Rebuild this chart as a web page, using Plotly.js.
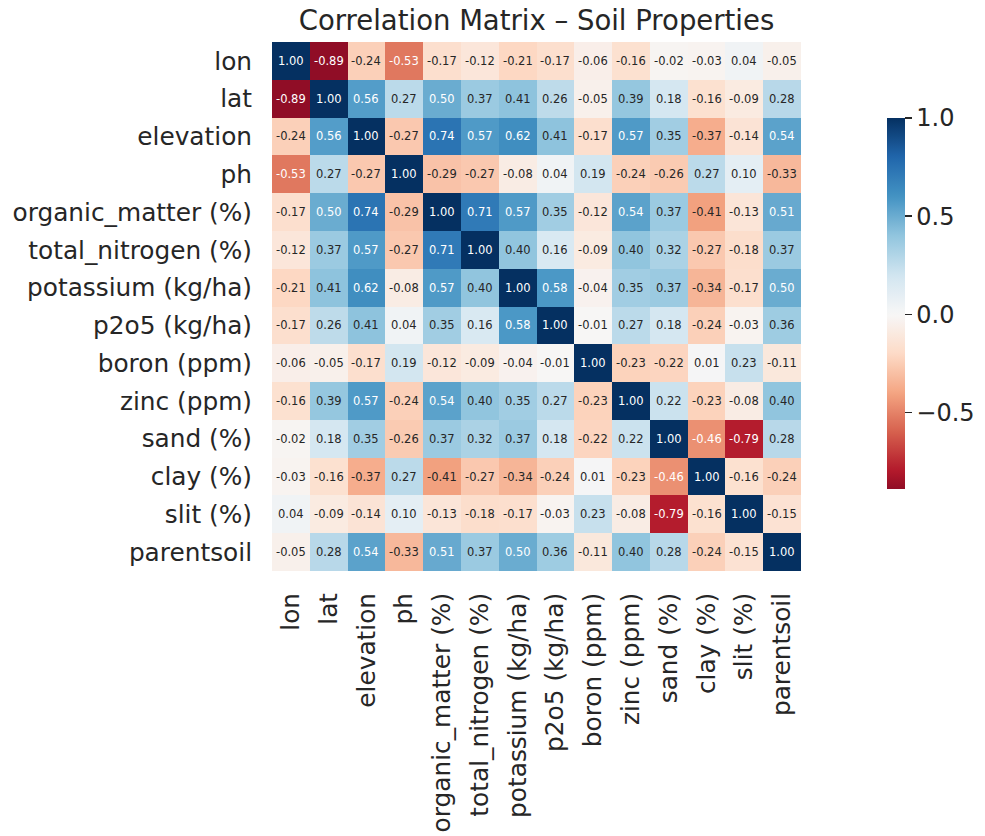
<!DOCTYPE html>
<html>
<head>
<meta charset="utf-8">
<script src="https://cdn.plot.ly/plotly-3.0.1.min.js"></script>
<style>html,body{margin:0;padding:0;background:#fff;}#chart{width:985px;height:836px;}</style>
</head>
<body>
<div id="chart"></div>
<script>
const labels = ["lon","lat","elevation","ph","organic_matter (%)","total_nitrogen (%)","potassium (kg/ha)","p2o5 (kg/ha)","boron (ppm)","zinc (ppm)","sand (%)","clay (%)","slit (%)","parentsoil"];

const rowLon        = [ 1.00,-0.89,-0.24,-0.53,-0.17,-0.12,-0.21,-0.17,-0.06,-0.16,-0.02,-0.03, 0.04,-0.05];
const rowLat        = [-0.89, 1.00, 0.56, 0.27, 0.50, 0.37, 0.41, 0.26,-0.05, 0.39, 0.18,-0.16,-0.09, 0.28];
const rowElevation  = [-0.24, 0.56, 1.00,-0.27, 0.74, 0.57, 0.62, 0.41,-0.17, 0.57, 0.35,-0.37,-0.14, 0.54];
const rowPh         = [-0.53, 0.27,-0.27, 1.00,-0.29,-0.27,-0.08, 0.04, 0.19,-0.24,-0.26, 0.27, 0.10,-0.33];
const rowOrganic    = [-0.17, 0.50, 0.74,-0.29, 1.00, 0.71, 0.57, 0.35,-0.12, 0.54, 0.37,-0.41,-0.13, 0.51];
const rowNitrogen   = [-0.12, 0.37, 0.57,-0.27, 0.71, 1.00, 0.40, 0.16,-0.09, 0.40, 0.32,-0.27,-0.18, 0.37];
const rowPotassium  = [-0.21, 0.41, 0.62,-0.08, 0.57, 0.40, 1.00, 0.58,-0.04, 0.35, 0.37,-0.34,-0.17, 0.50];
const rowP2o5       = [-0.17, 0.26, 0.41, 0.04, 0.35, 0.16, 0.58, 1.00,-0.01, 0.27, 0.18,-0.24,-0.03, 0.36];
const rowBoron      = [-0.06,-0.05,-0.17, 0.19,-0.12,-0.09,-0.04,-0.01, 1.00,-0.23,-0.22, 0.01, 0.23,-0.11];
const rowZinc       = [-0.16, 0.39, 0.57,-0.24, 0.54, 0.40, 0.35, 0.27,-0.23, 1.00, 0.22,-0.23,-0.08, 0.40];
const rowSand       = [-0.02, 0.18, 0.35,-0.26, 0.37, 0.32, 0.37, 0.18,-0.22, 0.22, 1.00,-0.46,-0.79, 0.28];
const rowClay       = [-0.03,-0.16,-0.37, 0.27,-0.41,-0.27,-0.34,-0.24, 0.01,-0.23,-0.46, 1.00,-0.16,-0.24];
const rowSlit       = [ 0.04,-0.09,-0.14, 0.10,-0.13,-0.18,-0.17,-0.03, 0.23,-0.08,-0.79,-0.16, 1.00,-0.15];
const rowParentsoil = [-0.05, 0.28, 0.54,-0.33, 0.51, 0.37, 0.50, 0.36,-0.11, 0.40, 0.28,-0.24,-0.15, 1.00];

const matrix = [rowLon,rowLat,rowElevation,rowPh,rowOrganic,rowNitrogen,rowPotassium,rowP2o5,rowBoron,rowZinc,rowSand,rowClay,rowSlit,rowParentsoil];

const cbTickVals = [-0.5, 0, 0.5, 1];
const cbTickText = ["\u22120.5", "0.0", "0.5", "1.0"];

// colour range shown on the colorbar (data minimum to 1), colours centred on 0 over [-1, 1]
const zMin = -0.89, zMax = 1, centreRange = 1;

const rdbu = ["#67001f","#b2182b","#d6604d","#f4a582","#fddbc7","#f7f7f7","#d1e5f0","#92c5de","#4393c3","#2166ac","#053061"];
function hexToRgb(h){return [parseInt(h.slice(1,3),16),parseInt(h.slice(3,5),16),parseInt(h.slice(5,7),16)];}
function sampleRdBu(p){
  const n = rdbu.length - 1;
  const f = Math.min(Math.max(p,0),1) * n;
  const i = Math.min(Math.floor(f), n - 1);
  const t = f - i;
  const a = hexToRgb(rdbu[i]), b = hexToRgb(rdbu[i+1]);
  const c = a.map((v,k)=>Math.round(v + (b[k]-v)*t));
  return 'rgb(' + c.join(',') + ')';
}
const colorscale = [];
const steps = 60;
for (let s = 0; s <= steps; s++) {
  const t = s / steps;
  const v = zMin + t * (zMax - zMin);
  colorscale.push([t, sampleRdBu((v + centreRange) / (2 * centreRange))]);
}

const font = "DejaVu Sans, sans-serif";
const W = 985, H = 836;

const annotations = [];
for (let r = 0; r < labels.length; r++) {
  for (let c = 0; c < labels.length; c++) {
    const v = matrix[r][c];
    annotations.push({
      x: labels[c], y: labels[r], xref: 'x', yref: 'y',
      text: v.toFixed(2), showarrow: false,
      font: {family: font, size: 11.5, color: Math.abs(v) >= 0.45 ? '#ffffff' : '#262626'}
    });
  }
}

const trace = {
  type: 'heatmap',
  x: labels, y: labels, z: matrix,
  zmin: zMin, zmax: zMax,
  colorscale: colorscale,
  colorbar: {
    x: 887/W, xanchor: 'left', xref: 'paper',
    y: 1 - 303.5/H, yanchor: 'middle', yref: 'paper',
    thickness: 18, thicknessmode: 'pixels',
    len: 371, lenmode: 'pixels',
    outlinewidth: 0, xpad: 0, ypad: 0,
    tickvals: cbTickVals, ticktext: cbTickText,
    ticks: 'outside', ticklen: 7, tickwidth: 1.5, tickcolor: '#262626',
    tickfont: {family: font, size: 24, color: '#262626'}
  }
};

const layout = {
  width: W, height: H,
  margin: {l: 0, r: 0, t: 0, b: 0},
  paper_bgcolor: '#ffffff', plot_bgcolor: '#ffffff',
  title: {
    text: 'Correlation Matrix \u2013 Soil Properties',
    x: 536.5/W, xanchor: 'center', xref: 'paper',
    y: 1 - 20/H, yanchor: 'middle', yref: 'container',
    font: {family: font, size: 27.5, color: '#262626'}
  },
  xaxis: {
    domain: [272/W, 801/W], type: 'category',
    tickangle: -90, ticks: 'outside', ticklen: 11, tickcolor: 'rgba(0,0,0,0)',
    tickfont: {family: font, size: 24.8, color: '#262626'},
    showgrid: false, zeroline: false, showline: false, automargin: false
  },
  yaxis: {
    domain: [1 - 571/H, 1 - 42/H], type: 'category', autorange: 'reversed',
    ticks: 'outside', ticklen: 14, tickcolor: 'rgba(0,0,0,0)',
    tickfont: {family: font, size: 24.8, color: '#262626'},
    showgrid: false, zeroline: false, showline: false, automargin: false
  },
  annotations: annotations
};

Plotly.newPlot('chart', [trace], layout, {displayModeBar: false, staticPlot: true});
</script>
</body>
</html>
